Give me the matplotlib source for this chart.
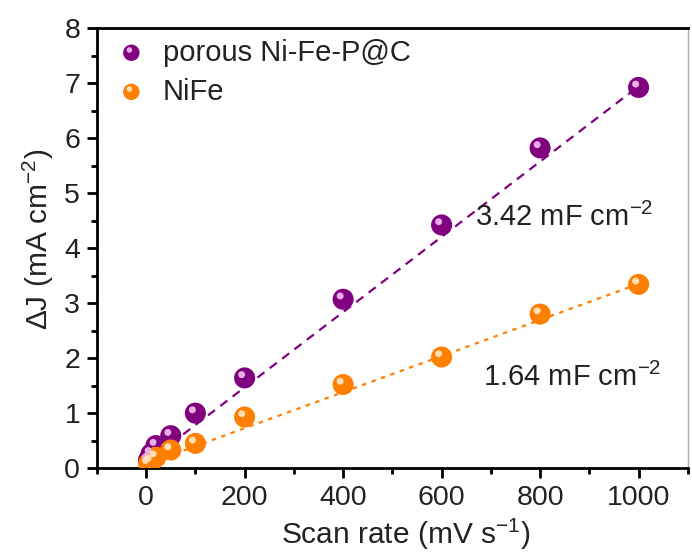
import matplotlib
matplotlib.use("Agg")
import matplotlib.pyplot as plt
from matplotlib.ticker import MultipleLocator
import numpy as np

plt.rcParams['font.family'] = ['Liberation Sans', 'DejaVu Sans']
plt.rcParams['mathtext.fontset'] = 'custom'
plt.rcParams['mathtext.rm'] = 'Liberation Sans'
plt.rcParams['mathtext.it'] = 'Liberation Sans'
plt.rcParams['mathtext.default'] = 'regular'

# Scan rates (mV/s) and current density differences (mA/cm2)
scan_rate = [5, 10, 20, 50, 100, 200, 400, 600, 800, 1000]
dj_nifep = [0.15, 0.26, 0.41, 0.59, 1.00, 1.64, 3.07, 4.42, 5.82, 6.92]
dj_nife = [0.08, 0.12, 0.20, 0.33, 0.45, 0.93, 1.52, 2.02, 2.80, 3.34]

# Linear fits: slope = 2 * Cdl
cdl_nifep = 3.42
cdl_nife = 1.64
icpt_nifep = 0.10
icpt_nife = 0.07

labels = ["porous Ni-Fe-P@C", "NiFe"]
colors = ["#800080", "#ff8000"]
highlights = ["#e6b0e6", "#ffe0b8"]
text_color = '#222222'

fig = plt.figure(figsize=(6.92, 5.6), dpi=100)
ax = fig.add_axes([0.140, 0.164, 0.854, 0.786])

xfit = np.array([0, 1000])
ax.plot(xfit, icpt_nifep + 2 * cdl_nifep / 1000 * xfit, color=colors[0],
        lw=1.6, dashes=(4, 3), zorder=2)
ax.plot(xfit, icpt_nife + 2 * cdl_nife / 1000 * xfit, color=colors[1],
        lw=1.6, dashes=(2, 2.5), zorder=2)

for yv, c, h in [(dj_nifep, colors[0], highlights[0]), (dj_nife, colors[1], highlights[1])]:
    ax.scatter(scan_rate, yv, s=230, color=c, zorder=3, edgecolors='none')
    ax.scatter(np.array(scan_rate) - 6, np.array(yv) + 0.06, s=25, color=h,
               zorder=4, edgecolors='none')

ax.set_xlim(-100, 1100)
ax.set_ylim(0, 8)
ax.xaxis.set_major_locator(MultipleLocator(200))
ax.xaxis.set_minor_locator(MultipleLocator(100))
ax.yaxis.set_major_locator(MultipleLocator(1))
ax.yaxis.set_minor_locator(MultipleLocator(0.5))
ax.tick_params(which='major', direction='out', length=7, width=2,
               labelsize=20.5, colors='black', labelcolor=text_color, pad=5)
ax.tick_params(which='minor', direction='out', length=4, width=2)
ax.tick_params(axis='x', which='both', top=False)
ax.tick_params(axis='y', which='both', right=False)

for s in ['left', 'bottom', 'top']:
    ax.spines[s].set_linewidth(2)
    ax.spines[s].set_color('black')
ax.spines['right'].set_linewidth(1)
ax.spines['right'].set_color('#aaaaaa')

ax.set_xlabel("Scan rate (mV s$^{-1}$)", fontsize=21.5, color=text_color, labelpad=4)
ax.set_ylabel("\u0394J (mA cm$^{-2}$)", fontsize=21.5, color=text_color, labelpad=6)
ax.xaxis.label.set_x(0.522)
ax.yaxis.label.set_y(0.52)

ax.text(667, 4.55, "3.42 mF cm$^{-2}$", fontsize=21, color=text_color, va='center')
ax.text(685, 1.65, "1.64 mF cm$^{-2}$", fontsize=21, color=text_color, va='center')

# Legend
for i, (lab, c, h) in enumerate(zip(labels, colors, highlights)):
    yl = 7.55 - 0.71 * i
    ax.scatter([-30], [yl], s=140, color=c, zorder=3, edgecolors='none')
    ax.scatter([-34], [yl + 0.05], s=16, color=h, zorder=4, edgecolors='none')
    ax.text(34, yl, lab, fontsize=21, color=text_color, va='center')

fig.savefig("out.png", dpi=100)
